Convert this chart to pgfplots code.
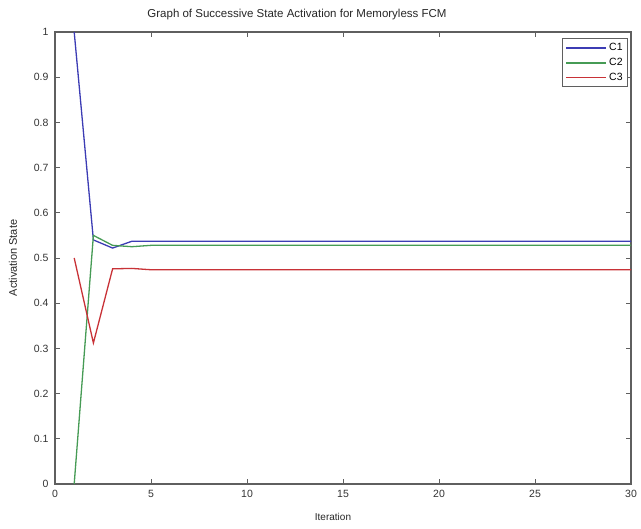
\documentclass[border=0pt]{standalone}
\usepackage{fontspec}
\setmainfont{Liberation Sans}
\usepackage{pgfplots}
\pgfplotsset{compat=1.18}
\usepackage{pgfplotstable}

\definecolor{cone}{RGB}{60,60,180}
\definecolor{ctwo}{RGB}{70,155,85}
\definecolor{cthree}{RGB}{200,50,55}
\definecolor{axgray}{RGB}{95,95,95}

% iteration, C1, C2, C3
\pgfplotstableread{
it  c1     c2     c3
1   1.000  0.000  0.500
2   0.540  0.550  0.312
3   0.522  0.528  0.476
4   0.537  0.525  0.477
5   0.537  0.528  0.474
6   0.537  0.528  0.474
7   0.537  0.528  0.474
8   0.537  0.528  0.474
9   0.537  0.528  0.474
10  0.537  0.528  0.474
11  0.537  0.528  0.474
12  0.537  0.528  0.474
13  0.537  0.528  0.474
14  0.537  0.528  0.474
15  0.537  0.528  0.474
16  0.537  0.528  0.474
17  0.537  0.528  0.474
18  0.537  0.528  0.474
19  0.537  0.528  0.474
20  0.537  0.528  0.474
21  0.537  0.528  0.474
22  0.537  0.528  0.474
23  0.537  0.528  0.474
24  0.537  0.528  0.474
25  0.537  0.528  0.474
26  0.537  0.528  0.474
27  0.537  0.528  0.474
28  0.537  0.528  0.474
29  0.537  0.528  0.474
30  0.537  0.528  0.474
}\fcmdata

\begin{document}
\begin{tikzpicture}
\begin{axis}[
  scale only axis,
  width=576pt, height=452pt,
  xmin=0, xmax=30, ymin=0, ymax=1,
  xtick={0,5,...,30},
  ytick={0,0.1,...,1},
  yticklabels={0,0.1,0.2,0.3,0.4,0.5,0.6,0.7,0.8,0.9,1},
  tick align=inside,
  major tick length=5pt,
  tick style={axgray, line width=0.9pt},
  axis line style={axgray, line width=1.6pt},
  ticklabel style={font=\fontsize{10.5}{12}\selectfont, text=black!80},
  xticklabel style={yshift=-3pt},
  yticklabel style={xshift=-3pt},
  /pgf/number format/assume math mode=true,
  title={Graph of Successive State Activation for Memoryless FCM},
  title style={font=\fontsize{11.5}{13}\selectfont, text=black!85, yshift=3pt, xshift=-46pt},
  xlabel={Iteration},
  ylabel={Activation State},
  xlabel style={font=\fontsize{10}{12}\selectfont, text=black!85, yshift=-8pt, xshift=-10pt},
  ylabel style={font=\fontsize{11}{12}\selectfont, text=black!85, yshift=10pt},
  legend style={at={(0.995,0.987)}, anchor=north east, draw=axgray, line width=1pt,
    font=\fontsize{10.5}{12}\selectfont, inner sep=3pt, row sep=2pt},
  legend cell align=left,
]
\addplot[cone, line width=1.3pt,
  legend image code/.code={\draw[draw=cone, line width=1.8pt] (0cm,0cm) -- (1.4cm,0cm);}]
  table[x=it, y=c1] {\fcmdata};
\addlegendentry{C1}
\addplot[ctwo, line width=1.3pt,
  legend image code/.code={\draw[draw=ctwo, line width=1.8pt] (0cm,0cm) -- (1.4cm,0cm);}]
  table[x=it, y=c2] {\fcmdata};
\addlegendentry{C2}
\addplot[cthree, line width=1.3pt,
  legend image code/.code={\draw[draw=cthree, line width=1.8pt] (0cm,0cm) -- (1.4cm,0cm);}]
  table[x=it, y=c3] {\fcmdata};
\addlegendentry{C3}
\end{axis}
\path (current axis.south west) ++(-55pt,-44pt) coordinate (bbsw);
\path (current axis.north east) ++(10pt,32pt) coordinate (bbne);
\useasboundingbox (bbsw) rectangle (bbne);
\end{tikzpicture}
\end{document}
